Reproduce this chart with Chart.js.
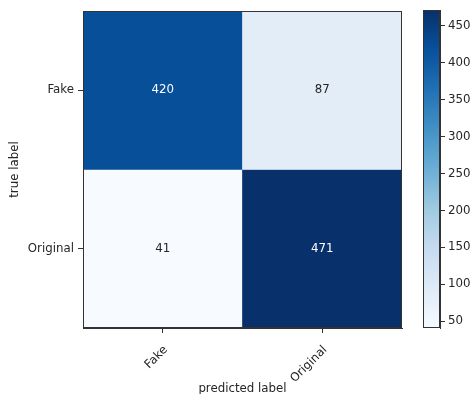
<!DOCTYPE html>
<html>
<head>
<meta charset="utf-8">
<script src="https://cdn.jsdelivr.net/npm/chart.js@4.4.1/dist/chart.umd.min.js"></script>
<style>
  html, body { margin: 0; padding: 0; background: #fff; }
  #wrap { position: relative; width: 470px; height: 394px; }
  #wrap canvas { position: absolute; left: 0; top: 0; }
</style>
</head>
<body>
<div id="wrap">
  <canvas id="cm" width="470" height="394"></canvas>
  <canvas id="cb" width="470" height="394"></canvas>
</div>
<script>
// Confusion matrix: rows = true label, columns = predicted label
const classLabels = ['Fake', 'Original'];
const rowFake = [420, 87];
const rowOriginal = [41, 471];
const colorbarTicks = [50, 100, 150, 200, 250, 300, 350, 400, 450];

const rows = [rowFake, rowOriginal];
const allValues = rows.flat();
const vMin = Math.min(...allValues);
const vMax = Math.max(...allValues);

// "Blues" colormap stops
const bluesStops = ['#f7fbff', '#deebf7', '#c6dbef', '#9ecae1', '#6baed6', '#4292c6', '#2171b5', '#08519c', '#08306b'];
function hexToRgb(h) { return [1, 3, 5].map(i => parseInt(h.substr(i, 2), 16)); }
function blues(t) {
  t = Math.max(0, Math.min(1, t));
  const pos = t * (bluesStops.length - 1);
  const i = Math.min(Math.floor(pos), bluesStops.length - 2);
  const f = pos - i;
  const a = hexToRgb(bluesStops[i]), b = hexToRgb(bluesStops[i + 1]);
  const c = a.map((v, k) => Math.round(v + (b[k] - v) * f));
  return `rgb(${c[0]},${c[1]},${c[2]})`;
}
const colorOf = v => blues((v - vMin) / (vMax - vMin));

const FONT = { family: 'DejaVu Sans', size: 11.8 };
const TEXT = '#262626';
const FRAME = '#333333';

Chart.defaults.font.family = FONT.family;
Chart.defaults.font.size = FONT.size;
Chart.defaults.color = TEXT;

// frame around the plotting area (matplotlib-style spines)
const framePlugin = {
  id: 'frame',
  afterDraw(chart) {
    const { ctx, chartArea: a } = chart;
    ctx.save();
    ctx.strokeStyle = FRAME;
    ctx.lineWidth = 1;
    ctx.strokeRect(Math.round(a.left) + 0.5, Math.round(a.top) + 0.5,
                   Math.round(a.right - a.left) - 1, Math.round(a.bottom - a.top) - 1);
    ctx.restore();
  }
};

// cell value annotations
const cellTextPlugin = {
  id: 'cellText',
  afterDatasetsDraw(chart) {
    const { ctx } = chart;
    const thresh = vMax / 2;
    ctx.save();
    ctx.font = `${FONT.size}px ${FONT.family}`;
    ctx.textAlign = 'center';
    ctx.textBaseline = 'middle';
    chart.data.datasets.forEach((ds, di) => {
      chart.getDatasetMeta(di).data.forEach((el, j) => {
        const v = ds.values[j];
        ctx.fillStyle = v > thresh ? '#ffffff' : TEXT;
        ctx.fillText(String(v), el.x, (el.y + el.base) / 2);
      });
    });
    ctx.restore();
  }
};

new Chart(document.getElementById('cm'), {
  type: 'bar',
  data: {
    labels: classLabels,
    datasets: rows.map((row, r) => ({
      label: classLabels[r],
      values: row,
      data: row.map(() => [r, r + 1]),
      backgroundColor: row.map(colorOf),
      borderWidth: 0,
      grouped: false,
      barPercentage: 1,
      categoryPercentage: 1
    }))
  },
  options: {
    responsive: false,
    animation: false,
    layout: { padding: { left: 0, top: 10, right: 68, bottom: 0 } },
    plugins: { legend: { display: false }, tooltip: { enabled: false } },
    scales: {
      x: {
        type: 'category',
        grid: { display: true, offset: false, drawOnChartArea: false, drawTicks: true, tickLength: 5, color: FRAME },
        border: { display: true, color: FRAME },
        ticks: { minRotation: 45, maxRotation: 45, padding: 10, labelOffset: 3, color: TEXT },
        title: { display: true, text: 'predicted label', padding: { top: 0, bottom: -2 }, color: TEXT },
        afterFit(scale) { scale.height = 66; }
      },
      y: {
        type: 'linear',
        min: 0,
        max: rows.length,
        reverse: true,
        afterBuildTicks(scale) { scale.ticks = classLabels.map((_, i) => ({ value: i + 0.5 })); },
        ticks: { callback: v => classLabels[Math.floor(v)], padding: 4, color: TEXT },
        grid: { display: true, drawOnChartArea: false, drawTicks: true, tickLength: 5, color: FRAME },
        border: { display: true, color: FRAME },
        title: { display: true, text: 'true label', padding: { top: 8, bottom: 0 }, color: TEXT },
        afterFit(scale) { scale.width = 83; }
      }
    }
  },
  plugins: [framePlugin, cellTextPlugin]
});

// colorbar
new Chart(document.getElementById('cb'), {
  type: 'bar',
  data: {
    labels: [''],
    datasets: [{
      data: [[vMin, vMax]],
      backgroundColor(ctx) {
        const area = ctx.chart.chartArea;
        if (!area) return bluesStops[0];
        const g = ctx.chart.ctx.createLinearGradient(0, area.bottom, 0, area.top);
        bluesStops.forEach((c, i) => g.addColorStop(i / (bluesStops.length - 1), c));
        return g;
      },
      borderWidth: 0,
      barPercentage: 1,
      categoryPercentage: 1
    }]
  },
  options: {
    responsive: false,
    animation: false,
    events: [],
    layout: { padding: { left: 423, top: 10, right: 0, bottom: 66 } },
    plugins: { legend: { display: false }, tooltip: { enabled: false } },
    scales: {
      x: { display: false },
      y: {
        type: 'linear',
        position: 'right',
        min: vMin,
        max: vMax,
        afterBuildTicks(scale) { scale.ticks = colorbarTicks.map(v => ({ value: v })); },
        ticks: { padding: 3, color: TEXT },
        grid: { display: true, drawOnChartArea: false, drawTicks: true, tickLength: 5, color: FRAME },
        border: { display: true, color: FRAME },
        afterFit(scale) { scale.width = 30; }
      }
    }
  },
  plugins: [framePlugin]
});
</script>
</body>
</html>
